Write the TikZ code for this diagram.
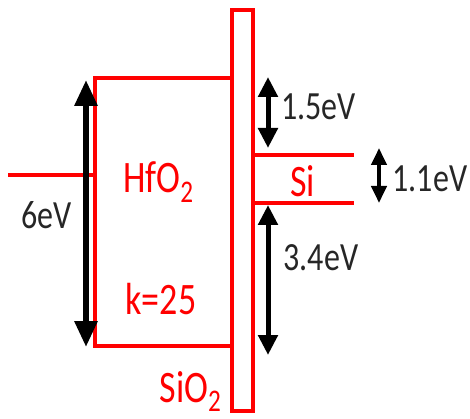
\documentclass[tikz,border=0pt]{standalone}
\usepackage{fontspec}
\setmainfont{Carlito}
\usetikzlibrary{arrows.meta}

\begin{document}
\begin{tikzpicture}[x=1pt, y=-1pt]
	% Styles
	\tikzstyle{band} = [draw=red, line width=4pt]
	\tikzstyle{gapBig} = [line width=6pt, {Triangle[length=26pt,width=22pt]}-{Triangle[length=26pt,width=22pt]}]
	\tikzstyle{gapSmall} = [line width=5pt, {Triangle[length=20pt,width=19pt]}-{Triangle[length=20pt,width=19pt]}]
	\tikzstyle{gapTiny} = [line width=4pt, {Triangle[length=17pt,width=15pt]}-{Triangle[length=17pt,width=15pt]}]
	\tikzstyle{value} = [text=black!85, inner sep=0pt, anchor=base, font=\fontsize{32}{32}\selectfont, yscale=1.25, transform shape]
	\tikzstyle{material} = [text=red, inner sep=0pt, anchor=base, font=\fontsize{36}{36}\selectfont, yscale=1.25, transform shape]
	\useasboundingbox (0,0) rectangle (470,419);
	
	% Bands
	\draw[band] (232,78.5) -- (95,78.5) -- (95,346) -- (232,346);
	\draw[band] (8,175.5) -- (95,175.5);
	\draw[band] (232,10) rectangle (253,411);
	\draw[band] (253,155) -- (354,155);
	\draw[band] (253,203) -- (354,203);
	
	% Arrow ends
	\coordinate (hfTop) at (86,80);
	\coordinate (hfBottom) at (86,347);
	\coordinate (cbTop) at (268,77);
	\coordinate (cbBottom) at (268,148);
	\coordinate (siTop) at (379,148);
	\coordinate (siBottom) at (379,203);
	\coordinate (vbTop) at (268,205);
	\coordinate (vbBottom) at (268,355);
	
	% Labels
	\node[value] (hfGap) at (46.5,229) {6eV};
	\node[value] (cbOffset) at (318.5,120) {1.5eV};
	\node[value] (siGap) at (430,192) {1.1eV};
	\node[value] (vbOffset) at (321,270) {3.4eV};
	\node[material] (hfName) at (158.5,193) {HfO\textsubscript{2}};
	\node[material] (hfK) at (161,314) {k=25};
	\node[material] (oxName) at (190.5,402) {SiO\textsubscript{2}};
	\node[material] (siName) at (302.5,197) {Si};
	
	% Arrows
	\draw[gapBig] (hfTop) -- (hfBottom);
	\draw[gapSmall] (cbTop) -- (cbBottom);
	\draw[gapTiny] (siTop) -- (siBottom);
	\draw[gapSmall] (vbTop) -- (vbBottom);
\end{tikzpicture}
\end{document}
